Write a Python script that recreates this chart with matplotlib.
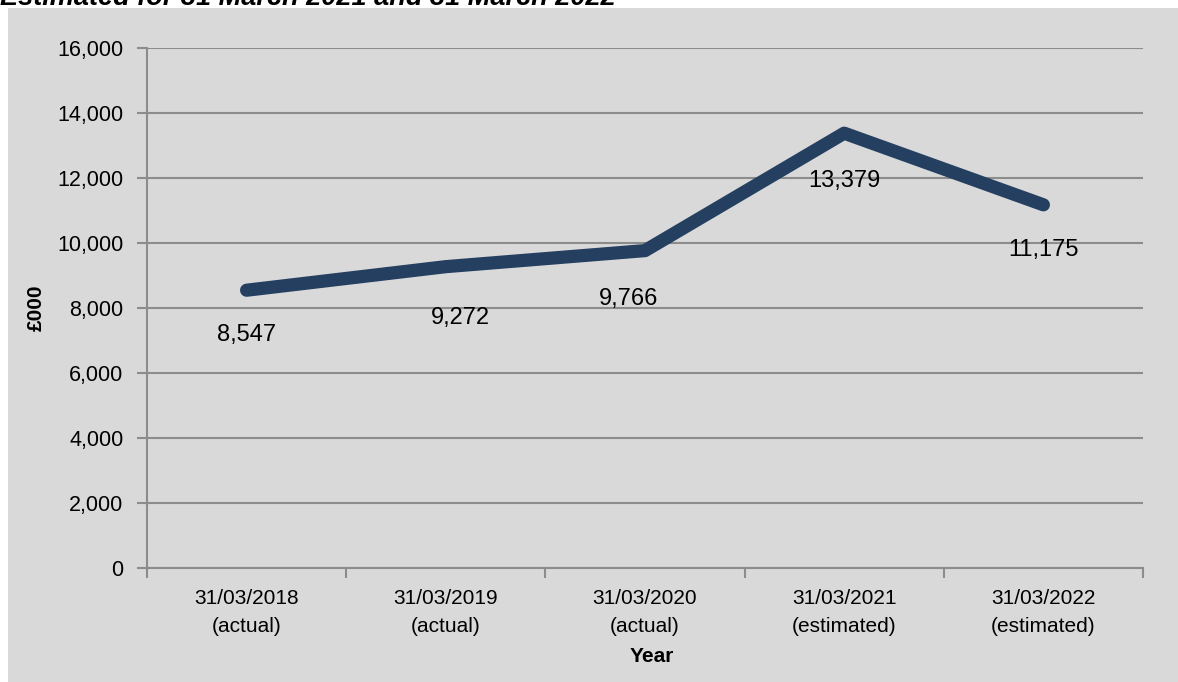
import matplotlib.pyplot as plt
from matplotlib.patches import Rectangle
from matplotlib.ticker import FuncFormatter, FixedLocator

# year end balances, £000
dates = ["31/03/2018", "31/03/2019", "31/03/2020", "31/03/2021", "31/03/2022"]
status = ["actual", "actual", "actual", "estimated", "estimated"]
values = [8547, 9272, 9766, 13379, 11175]

# pixel nudges for the value labels (dx, dy)
label_offsets = [(0, -45), (15, -51), (-16, -48), (0, -48), (0, -45)]

plt.rcParams['font.family'] = ['Liberation Sans', 'DejaVu Sans']

W, H = 1178, 682
fig = plt.figure(figsize=(W / 100, H / 100), dpi=100, facecolor='white')

# grey chart area
fig.patches.append(Rectangle((8 / W, 0), 1 - 8 / W, 1 - 8 / H, transform=fig.transFigure,
                             facecolor='#d9d9d9', edgecolor='none', zorder=-10))

fig.text(0.0, 1 - 5 / H, "Estimated for 31 March 2021 and 31 March 2022",
         fontsize=19.5, fontweight='bold', style='italic', va='baseline', ha='left')

ax = fig.add_axes([147 / W, (H - 568) / H, 996 / W, 520 / H])
ax.set_facecolor('none')

x = list(range(len(values)))
ax.plot(x, values, color='#243f60', linewidth=9.5, solid_capstyle='round',
        solid_joinstyle='round', zorder=3)

for i, v in enumerate(values):
    dx, dy = label_offsets[i]
    ax.annotate(f"{v:,}", (i, v), xytext=(dx, dy), textcoords='offset pixels',
                ha='center', va='center', fontsize=17, color='black')

ax.set_xlim(-0.5, len(values) - 0.5)
ax.set_ylim(0, 16000)
ax.set_yticks(range(0, 16001, 2000))
ax.yaxis.set_major_formatter(FuncFormatter(lambda v, p: f"{int(v):,}"))
ax.grid(axis='y', color='#8c8c8c', linewidth=1.5, zorder=1)
ax.set_axisbelow(True)

ax.set_xticks(x)
ax.set_xticklabels([f"{d}\n({s})" for d, s in zip(dates, status)], linespacing=1.6)
ax.xaxis.set_minor_locator(FixedLocator([i - 0.5 for i in range(len(values) + 1)]))
ax.tick_params(axis='x', which='major', length=0, pad=15, labelsize=15)
ax.tick_params(axis='x', which='minor', length=7, width=1.5, color='#8c8c8c')
ax.tick_params(axis='y', length=7, width=1.5, color='#8c8c8c', pad=10, labelsize=15.5)

for side in ['top', 'right']:
    ax.spines[side].set_visible(False)
for side in ['left', 'bottom']:
    ax.spines[side].set_color('#8c8c8c')
    ax.spines[side].set_linewidth(1.5)

ax.set_ylabel("£000", fontsize=15, fontweight='bold')
ax.yaxis.set_label_coords(-0.102, 0.5)
ax.set_xlabel("Year", fontsize=15, fontweight='bold')
ax.xaxis.set_label_coords(0.507, -0.152)

fig.savefig("out.png", dpi=100, facecolor=fig.get_facecolor())
